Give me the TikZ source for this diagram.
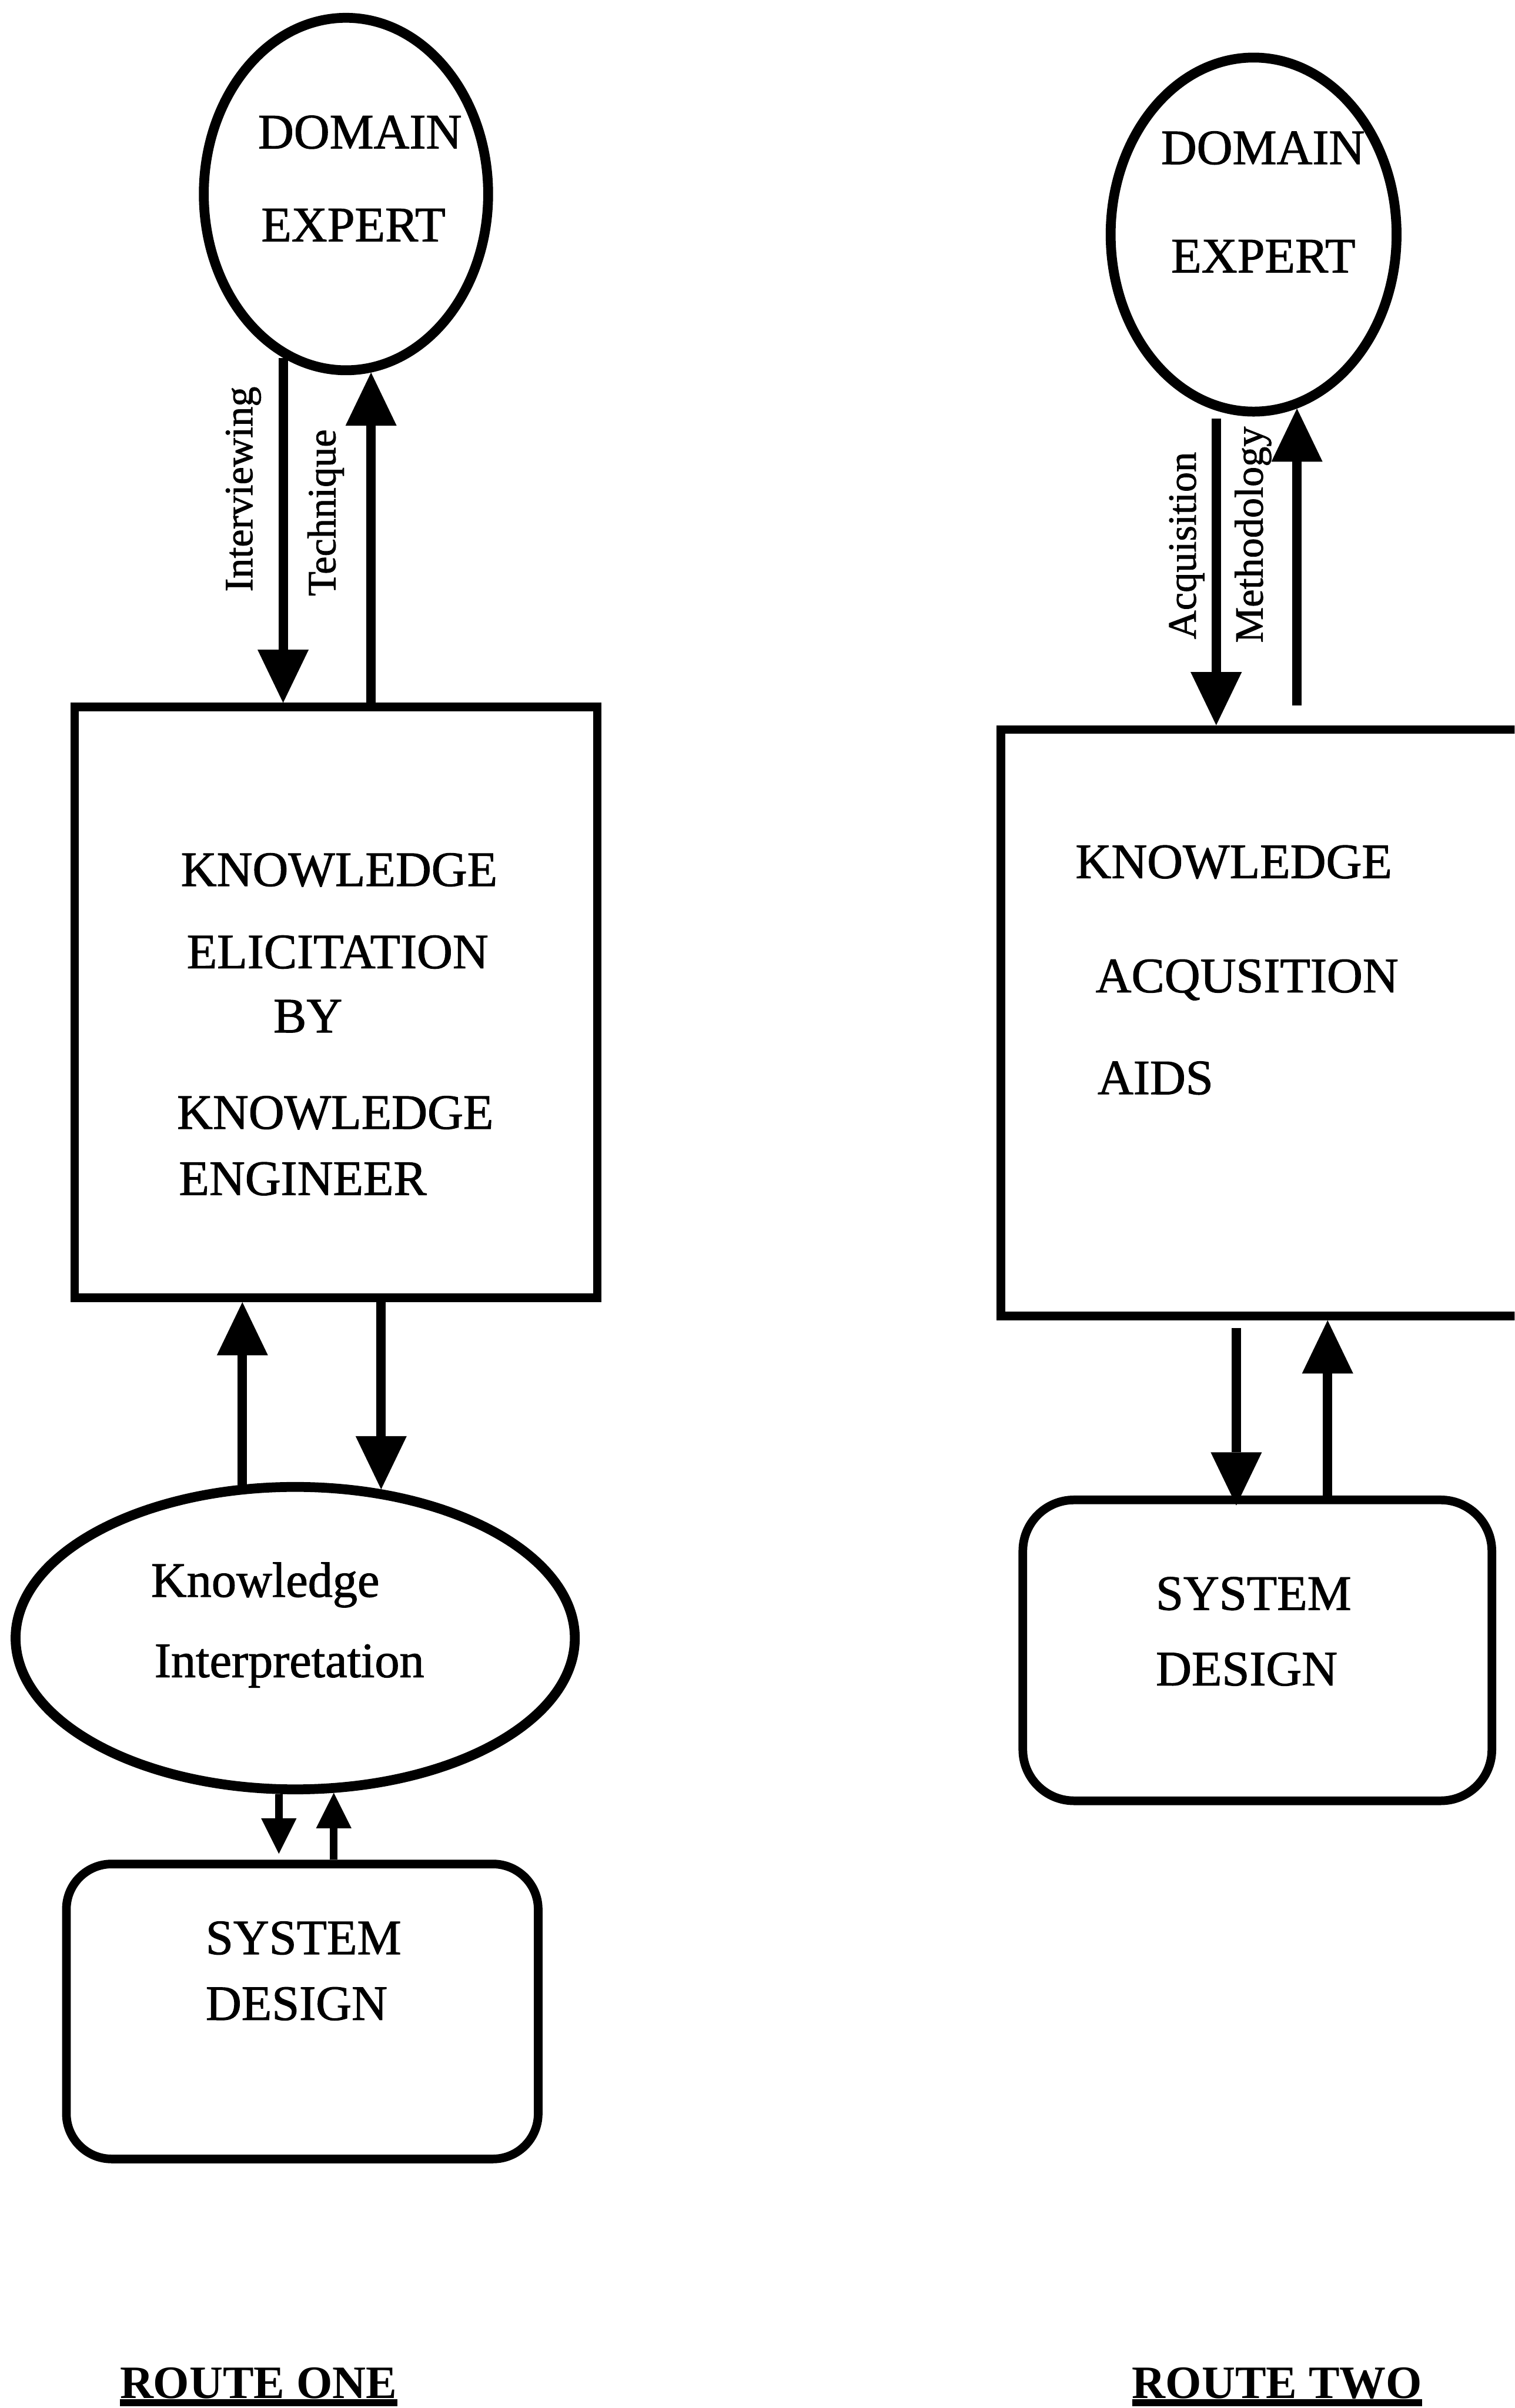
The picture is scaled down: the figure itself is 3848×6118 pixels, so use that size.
\documentclass[tikz,border=0pt]{standalone}
\usepackage{fontspec}
\setmainfont{Liberation Serif}
% a slightly heavier cut of the same face for the labels
\newfontfamily\inkfont{Liberation Serif}[FakeBold=1.2]
\usetikzlibrary{arrows.meta,shapes.geometric}

\begin{document}
\begin{tikzpicture}[x=0.01cm, y=-0.01cm,
  ell/.style={ellipse, draw=black, line width=0.25cm, inner sep=0pt},
  box/.style={rectangle, draw=black, line width=0.22cm, inner sep=0pt},
  txt/.style={anchor=base west, inner sep=0pt, font=\inkfont\fontsize{35.8}{40}\selectfont},
  vlab/.style={anchor=base west, inner sep=0pt, rotate=90, font=\inkfont\fontsize{29}{34}\selectfont},
  route/.style={anchor=base west, inner sep=0pt, font=\fontsize{33.5}{38}\selectfont\bfseries},
  flow/.style={line width=0.24cm, -{Triangle[length=1.35cm, width=1.3cm, line width=0pt]}},
  smallflow/.style={line width=0.19cm, -{Triangle[length=0.9cm, width=0.9cm, line width=0pt]}},
]
\useasboundingbox (0,0) rectangle (3848,6118);
\clip (0,0) rectangle (3848,6118);

% ---------------- Route one ----------------
\node[ell, minimum width=7.22cm, minimum height=8.95cm] (de1) at (879,493) {};
\node[txt] (de1a) at (655,377) {DOMAIN};
\node[txt] (de1b) at (663,613) {EXPERT};

\node[box, minimum width=13.27cm, minimum height=15.0cm] (kb1) at (853.5,2547) {};
\node[txt] (kb1a) at (459,2251) {KNOWLEDGE};
\node[txt] (kb1b) at (474,2460) {ELICITATION};
\node[txt] (kb1c) at (694,2623) {BY};
\node[txt] (kb1d) at (449,2868) {KNOWLEDGE};
\node[txt] (kb1e) at (454,3036) {ENGINEER};

\node[ell, minimum width=14.2cm, minimum height=7.68cm] (ki) at (750,4162) {};
\node[txt] (kia) at (383,4057) {Knowledge};
\node[txt] (kib) at (392,4261) {Interpretation};

\node[box, rounded corners=1.15cm, minimum width=11.98cm, minimum height=7.49cm] (sd1) at (768,5110.5) {};
\node[txt] (sd1a) at (522,4965) {SYSTEM};
\node[txt] (sd1b) at (522,5132) {DESIGN};

\node[vlab] (lint) at (641,1504) {Interviewing};
\node[vlab] (ltec) at (852,1515) {Technique};

\draw[flow] (de1.249.9) -- (de1.249.9 |- kb1.north);
\draw[flow] (de1.278.5 |- kb1.north) -- (de1.278.5);
\draw[flow] (ki.109.4) -- (ki.109.4 |- kb1.south);
\draw[flow] (ki.60.6 |- kb1.south) -- (ki.60.6);
\draw[smallflow, shorten >=0.15cm] (ki.264.5) -- (ki.264.5 |- sd1.north);
\draw[smallflow] (ki.284.3 |- sd1.north) -- (ki.284.3);

\node[route] (r1) at (304,6093) {ROUTE ONE};
\draw[line width=0.18cm] ([shift={(0,9)}]r1.south west) -- ([shift={(0,9)}]r1.south east);

% ---------------- Route two ----------------
\node[ell, minimum width=7.26cm, minimum height=8.99cm] (de2) at (3185,596) {};
\node[txt] (de2a) at (2949,417) {DOMAIN};
\node[txt] (de2b) at (2975,692) {EXPERT};

% the right edge of this box runs past the page
\node[box, minimum width=13.57cm, minimum height=14.89cm] (kb2) at (3221.5,2598.5) {};
\node[txt] (kb2a) at (2732,2231) {KNOWLEDGE};
\node[txt] (kb2b) at (2783,2521) {ACQUSITION};
\node[txt] (kb2c) at (2788,2780) {AIDS};

\node[box, rounded corners=1.3cm, minimum width=11.91cm, minimum height=7.64cm] (sd2) at (3194.5,4193) {};
\node[txt] (sd2a) at (2936,4090) {SYSTEM};
\node[txt] (sd2b) at (2936,4282) {DESIGN};

\node[vlab] (lacq) at (3038,1625) {Acquisition};
\node[vlab] (lmet) at (3208,1634) {Methodology};

\draw[flow, shorten <=0.2cm] (de2.258.3) -- (de2.258.3 |- kb2.north);
\draw[flow, shorten <=0.5cm] (de2.284.7 |- kb2.north) -- (de2.284.7);
\draw[flow, shorten <=0.2cm, shorten >=-0.25cm] ([shift={(-80.5,0)}]kb2.south) -- ([shift={(-80.5,0)}]kb2.south |- sd2.north);
\draw[flow] ([shift={(151.5,0)}]kb2.south |- sd2.north) -- ([shift={(151.5,0)}]kb2.south);

\node[route] (r2) at (2876,6093) {ROUTE TWO};
\draw[line width=0.18cm] ([shift={(0,9)}]r2.south west) -- ([shift={(0,9)}]r2.south east);
\end{tikzpicture}
\end{document}
